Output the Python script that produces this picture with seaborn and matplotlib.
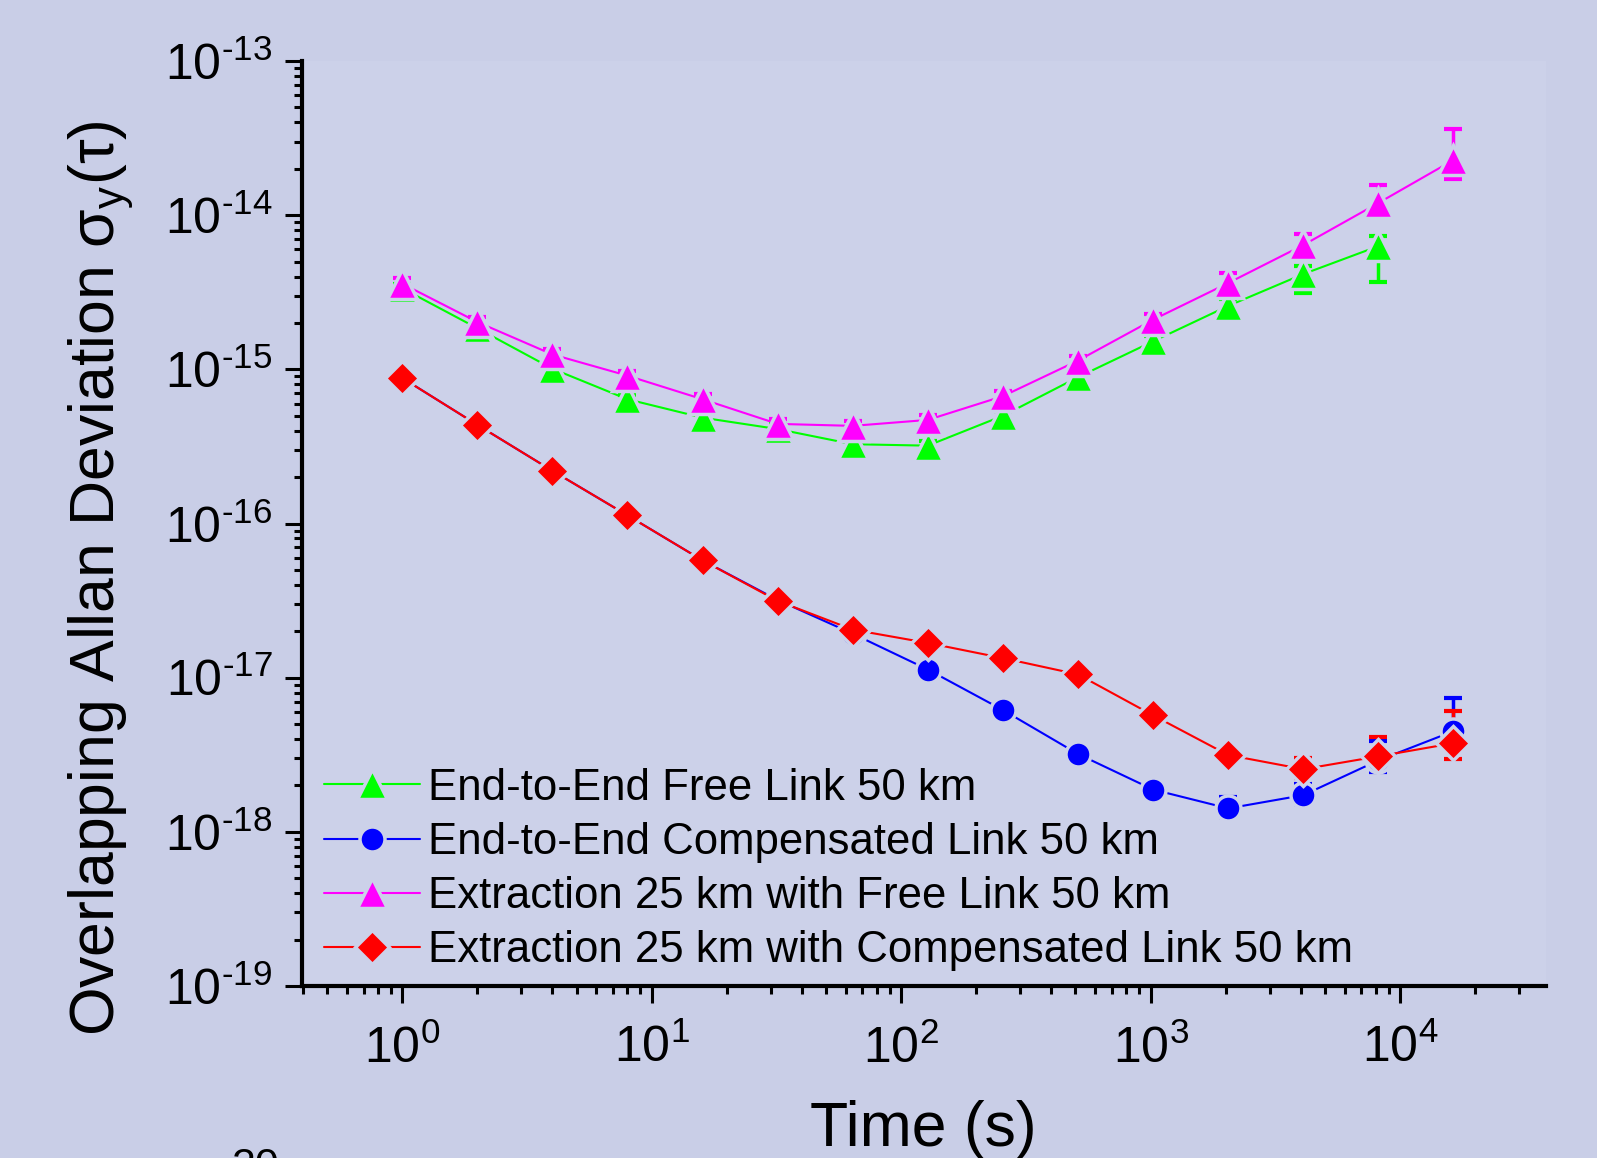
import numpy as np
import pandas as pd
import matplotlib
matplotlib.use("Agg")
import matplotlib.pyplot as plt
from matplotlib.ticker import LogLocator, NullFormatter, FuncFormatter
import seaborn as sns

# averaging time (s)
tau = [1, 2, 4, 8, 16, 32, 64, 128, 256, 512, 1024, 2048, 4096, 8192, 16384]

# End-to-End Free Link 50 km (no point at 16384 s)
free_adev = [3.36e-15, 1.85e-15, 1.01e-15, 6.4e-16, 4.86e-16, 4.1e-16, 3.27e-16, 3.2e-16,
             5.0e-16, 8.9e-16, 1.52e-15, 2.58e-15, 4.15e-15, 6.3e-15]
free_lo = [3.05e-15, 1.68e-15, 0.90e-15, 5.6e-16, 4.3e-16, 3.6e-16, 2.85e-16, 2.8e-16,
           4.4e-16, 7.8e-16, 1.36e-15, 2.12e-15, 3.13e-15, 3.68e-15]
free_hi = [3.6e-15, 1.98e-15, 1.08e-15, 6.8e-16, 5.2e-16, 4.4e-16, 3.5e-16, 3.45e-16,
           5.4e-16, 9.6e-16, 1.64e-15, 2.86e-15, 4.68e-15, 7.33e-15]

# End-to-End Compensated Link 50 km
comp_adev = [8.8e-16, 4.37e-16, 2.2e-16, 1.13e-16, 5.77e-17, 3.19e-17, 1.93e-17, 1.13e-17,
             6.17e-18, 3.2e-18, 1.88e-18, 1.42e-18, 1.73e-18, 2.91e-18, 4.5e-18]
comp_lo = [8.1e-16, 4.0e-16, 2.02e-16, 1.04e-16, 5.3e-17, 2.93e-17, 1.78e-17, 1.04e-17,
           5.7e-18, 2.95e-18, 1.72e-18, 1.25e-18, 1.51e-18, 2.44e-18, 3.54e-18]
comp_hi = [9.5e-16, 4.75e-16, 2.4e-16, 1.23e-16, 6.3e-17, 3.47e-17, 2.1e-17, 1.23e-17,
           6.7e-18, 3.47e-18, 2.05e-18, 1.68e-18, 2.04e-18, 3.87e-18, 7.36e-18]

# Extraction 25 km with Free Link 50 km
extf_adev = [3.6e-15, 2.03e-15, 1.25e-15, 9.1e-16, 6.4e-16, 4.43e-16, 4.3e-16, 4.7e-16,
             6.7e-16, 1.14e-15, 2.1e-15, 3.63e-15, 6.4e-15, 1.2e-14, 2.28e-14]
extf_lo = [3.25e-15, 1.83e-15, 1.12e-15, 8.1e-16, 5.7e-16, 3.95e-16, 3.8e-16, 4.15e-16,
           5.9e-16, 1.01e-15, 1.88e-15, 3.27e-15, 5.4e-15, 9.9e-15, 1.72e-14]
extf_hi = [3.9e-15, 2.2e-15, 1.35e-15, 9.8e-16, 6.9e-16, 4.75e-16, 4.6e-16, 5.05e-16,
           7.2e-16, 1.23e-15, 2.28e-15, 4.2e-15, 7.55e-15, 1.57e-14, 3.62e-14]

# Extraction 25 km with Compensated Link 50 km
extc_adev = [8.8e-16, 4.37e-16, 2.2e-16, 1.13e-16, 5.77e-17, 3.15e-17, 2.05e-17, 1.68e-17,
             1.34e-17, 1.05e-17, 5.7e-18, 3.15e-18, 2.55e-18, 3.09e-18, 3.76e-18]
extc_lo = [8.1e-16, 4.0e-16, 2.02e-16, 1.04e-16, 5.3e-17, 2.9e-17, 1.9e-17, 1.56e-17,
           1.24e-17, 9.7e-18, 5.25e-18, 2.85e-18, 2.23e-18, 2.62e-18, 2.96e-18]
extc_hi = [9.5e-16, 4.75e-16, 2.4e-16, 1.23e-16, 6.3e-17, 3.42e-17, 2.2e-17, 1.8e-17,
           1.44e-17, 1.13e-17, 6.2e-18, 3.5e-18, 3.0e-18, 4.1e-18, 6.07e-18]

labels = ["End-to-End Free Link 50 km",
          "End-to-End Compensated Link 50 km",
          "Extraction 25 km with Free Link 50 km",
          "Extraction 25 km with Compensated Link 50 km"]
colors = ["#00FF00", "#0000FF", "#FF00FF", "#FF0000"]
markers = ["^", "o", "^", "D"]
msizes = [22, 18, 22, 17]

series = [(free_adev, free_lo, free_hi),
          (comp_adev, comp_lo, comp_hi),
          (extf_adev, extf_lo, extf_hi),
          (extc_adev, extc_lo, extc_hi)]

fig_bg = "#C9CEE7"
ax_bg = "#CCD1E9"

sns.set_theme(style="ticks")
plt.rcParams["font.family"] = ["Liberation Sans", "DejaVu Sans"]
plt.rcParams["text.color"] = "black"
plt.rcParams["axes.labelcolor"] = "black"
plt.rcParams["mathtext.fontset"] = "custom"
plt.rcParams["mathtext.rm"] = "Liberation Sans"

fig = plt.figure(figsize=(15.97, 11.58), dpi=100, facecolor=fig_bg)
ax = fig.add_axes([0.1888, 0.1485, 0.7793, 0.7988], facecolor=ax_bg)
ax.set_xscale("log")
ax.set_yscale("log")

for (adev, lo, hi), lab, col, mk, ms in zip(series, labels, colors, markers, msizes):
    n = len(adev)
    df = pd.DataFrame({"tau": tau[:n], "adev": adev})
    y = np.array(adev)
    yerr = [y - np.array(lo), np.array(hi) - y]
    ax.errorbar(tau[:n], adev, yerr=yerr, fmt="none", ecolor=col, elinewidth=2.5,
                capsize=6.5, capthick=3, zorder=2)
    sns.lineplot(data=df, x="tau", y="adev", ax=ax, color=col, linewidth=1.5,
                 marker=mk, markersize=ms, markeredgecolor=ax_bg, markeredgewidth=2.5,
                 errorbar=None, label=lab, zorder=3)

ax.set_xlim(0.395, 3.85e4)
ax.set_ylim(1e-19, 1e-13)


def pow10(v, pos):
    e = int(round(np.log10(v)))
    return r"$\mathregular{10}^{\text{%d}}$" % e


ax.xaxis.set_major_locator(LogLocator(base=10, numticks=20))
ax.xaxis.set_major_formatter(FuncFormatter(pow10))
ax.xaxis.set_minor_locator(LogLocator(base=10, subs=np.arange(2, 10), numticks=50))
ax.xaxis.set_minor_formatter(NullFormatter())
ax.yaxis.set_major_locator(LogLocator(base=10, numticks=20))
ax.yaxis.set_major_formatter(FuncFormatter(pow10))
ax.yaxis.set_minor_locator(LogLocator(base=10, subs=np.arange(2, 10), numticks=50))
ax.yaxis.set_minor_formatter(NullFormatter())

sns.despine(ax=ax)
for side in ["left", "bottom"]:
    ax.spines[side].set_linewidth(3)
    ax.spines[side].set_color("black")
ax.tick_params(which="major", direction="out", length=12, width=2.2, labelsize=36,
               color="black", labelcolor="black")
ax.tick_params(which="minor", direction="out", length=6, width=2.2, color="black")
ax.tick_params(axis="x", which="major", pad=16)
ax.tick_params(axis="y", which="major", pad=9)

ax.set_xlabel("Time (s)", fontsize=45, va="top")
ax.xaxis.set_label_coords(0.5, -0.123)
ax.set_ylabel("Overlapping Allan Deviation σ$_\\mathregular{y}$(τ)", fontsize=45, va="center")
ax.yaxis.set_label_coords(-0.161, 0.441)

leg = ax.legend(loc="upper left", bbox_to_anchor=(0.0177, 0.236), frameon=False,
                fontsize=31.5, handlelength=2.2, handletextpad=0.18, labelspacing=0.3,
                borderpad=0, borderaxespad=0)

fig.text(0.145, 0.0095, "20", fontsize=31, va="top", ha="left", color="black")

fig.savefig("out.png", dpi=100, facecolor=fig_bg)
